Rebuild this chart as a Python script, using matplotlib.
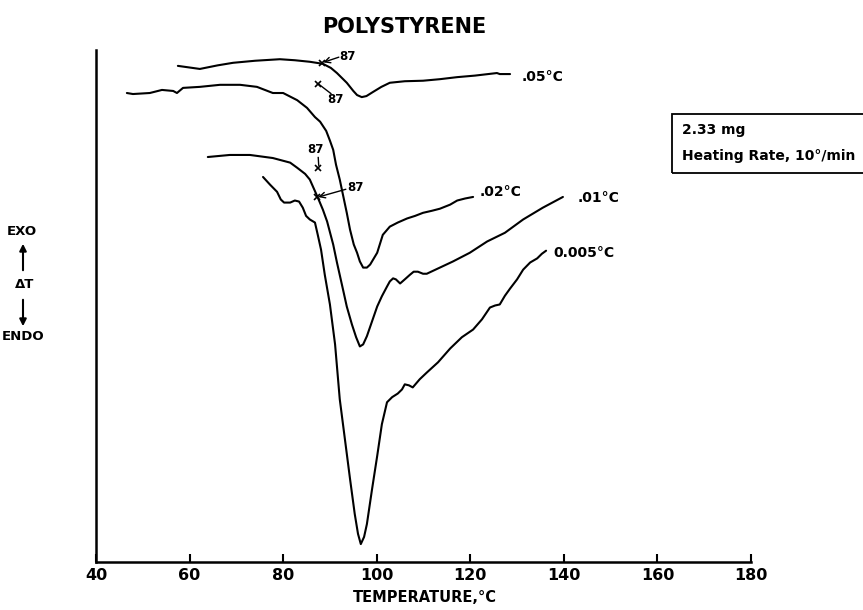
import matplotlib
matplotlib.use("Agg")
import matplotlib.pyplot as plt
from matplotlib.patches import Rectangle, FancyArrowPatch

plt.rcParams['font.family'] = ['DejaVu Sans']

# ---- data (temperature in degC, signal in arbitrary units) ----
t_05 = [57.5, 62.2, 66.0, 69.3, 74.0, 79.3, 82.5, 85.7, 88.5, 90.2, 91.5, 93.6, 95.0, 95.8, 96.8,
        97.8, 99.2, 101.0, 102.8, 106.0, 109.9, 113.5, 117.2, 121.0, 125.7, 126.3, 128.5]
s_05 = [96.9, 96.3, 97.0, 97.5, 97.9, 98.2, 98.0, 97.7, 97.3, 96.5, 95.5, 93.6, 92.0, 91.2, 90.8,
        91.0, 91.8, 92.8, 93.6, 93.9, 94.0, 94.3, 94.7, 95.0, 95.5, 95.3, 95.3]

t_02 = [46.6, 47.9, 51.5, 54.1, 56.5, 57.3, 58.6, 62.2, 66.5, 70.8, 74.4, 77.8, 80.0,
        83.0, 85.1, 86.8, 87.9, 89.2, 90.0, 90.7, 91.3, 92.1, 93.6, 94.3, 95.1, 95.8,
        96.4, 97.1, 97.9, 98.6, 100.1, 101.3, 102.8, 104.5, 106.5, 108.2, 109.9, 111.8,
        113.5, 115.7, 117.2, 118.9, 120.6]
s_02 = [91.6, 91.4, 91.6, 92.2, 92.0, 91.6, 92.6, 92.8, 93.2, 93.2, 92.8, 91.6, 91.6,
        90.2, 88.7, 86.9, 86.0, 84.2, 82.3, 80.5, 77.6, 74.7, 68.2, 64.9, 62.0, 60.4,
        58.7, 57.5, 57.5, 58.1, 60.4, 63.9, 65.5, 66.3, 67.1, 67.6, 68.2, 68.6,
        69.0, 69.8, 70.6, 71.0, 71.3]

t_01 = [63.9, 68.6, 72.9, 77.8, 81.5, 83.0, 84.7, 85.7, 87.4, 88.5, 89.4, 90.7, 91.5,
        92.8, 93.6, 94.7, 95.6, 96.4, 97.1, 97.9, 99.0, 100.1, 101.1, 102.2, 102.8,
        103.5, 104.1, 105.0, 106.0, 107.1, 107.9, 108.8, 109.9, 110.7, 113.5, 116.3,
        119.9, 123.6, 127.4, 131.3, 135.5, 139.8]
s_01 = [79.1, 79.5, 79.5, 78.9, 78.0, 77.0, 75.8, 74.7, 71.2, 68.8, 66.5, 62.0, 58.5,
        53.2, 49.9, 46.4, 43.9, 42.1, 42.5, 44.1, 47.0, 49.9, 51.9, 53.8, 54.8,
        55.4, 55.2, 54.4, 55.2, 56.1, 56.7, 56.7, 56.3, 56.3, 57.5, 58.7,
        60.4, 62.6, 64.3, 66.9, 69.2, 71.3]

t_005 = [75.7, 77.2, 78.7, 79.5, 80.2, 81.5, 82.5, 83.4, 84.2, 84.9, 85.7, 86.8, 87.4,
         88.1, 88.9, 90.0, 91.1, 92.1, 93.2, 94.3, 95.3, 96.0, 96.6, 97.3, 97.9, 99.0,
         100.1, 101.1, 102.2, 103.3, 104.5, 105.4, 106.0, 106.9, 107.7, 109.2, 110.7,
         113.1, 115.7, 118.2, 120.6, 122.5, 124.2, 125.3, 126.3, 127.4, 128.5, 130.0,
         131.3, 132.8, 134.3, 135.3, 136.2]
s_005 = [75.2, 73.7, 72.3, 70.8, 70.2, 70.2, 70.6, 70.4, 69.2, 67.6, 66.9, 66.3, 63.9,
         61.0, 56.1, 50.3, 42.5, 31.8, 24.0, 16.2, 9.4, 5.5, 3.5, 4.9, 7.4, 14.2,
         20.7, 26.9, 31.2, 32.2, 32.9, 33.7, 34.7, 34.5, 34.1, 35.7, 37.0,
         39.0, 41.7, 43.9, 45.4, 47.4, 49.7, 50.1, 50.3, 52.0, 53.4, 55.2,
         57.1, 58.5, 59.3, 60.2, 60.8]

curve_labels = [".05°C", ".02°C", ".01°C", "0.005°C"]
label_pos = [(131.0, 94.8), (122.1, 72.3), (143.0, 71.0), (137.7, 60.4)]

# onset (Tg = 87) marks: cross position and label position
onset_label = "87"
onset_cross = [(88.3, 97.5), (87.5, 93.4), (87.4, 77.0), (87.2, 71.2)]
onset_text = [(93.8, 98.8), (91.2, 90.3), (87.0, 80.5), (95.4, 73.1)]

x_ticks = [40, 60, 80, 100, 120, 140, 160, 180]

W = 'bold'

# ---- figure ----
fig = plt.figure(figsize=(8.63, 6.10), dpi=100)
ax = fig.add_axes([96/863, 1 - 562/610, (751-96)/863, (562-50)/610])
ax.set_xlim(40, 180)
ax.set_ylim(0, 100)

for t, s in [(t_05, s_05), (t_02, s_02), (t_01, s_01), (t_005, s_005)]:
    ax.plot(t, s, color='black', lw=1.5, solid_joinstyle='round', solid_capstyle='round')

for lab, (x, y) in zip(curve_labels, label_pos):
    ax.text(x, y, lab, fontsize=10, va='center', ha='left', fontweight=W)

# onset marks
for (cx, cy) in onset_cross:
    ax.plot([cx], [cy], marker='x', ms=5, mew=1.2, color='black')
for (tx, ty) in onset_text:
    ax.text(tx, ty, onset_label, fontsize=8.5, ha='center', va='center', fontweight=W)
# connecting lines / arrows
ax.annotate('', xy=onset_cross[0], xytext=(onset_text[0][0] - 1.9, onset_text[0][1] - 0.2),
            arrowprops=dict(arrowstyle='->', lw=1.0, color='black', shrinkA=0, shrinkB=1))
ax.plot([onset_cross[1][0], onset_text[1][0] - 1.0], [onset_cross[1][1], onset_text[1][1] + 1.2],
        color='black', lw=1.0)
ax.plot([onset_cross[2][0] + 0.2, onset_text[2][0] + 0.5], [onset_cross[2][1] + 0.5, onset_text[2][1] - 1.5],
        color='black', lw=1.0)
ax.annotate('', xy=onset_cross[3], xytext=(onset_text[3][0] - 2.0, onset_text[3][1] - 0.3),
            arrowprops=dict(arrowstyle='->', lw=1.0, color='black', shrinkA=0, shrinkB=1))

# axes styling
for side in ['top', 'right']:
    ax.spines[side].set_visible(False)
for side in ['left', 'bottom']:
    ax.spines[side].set_linewidth(1.8)
ax.set_yticks([])
ax.set_xticks(x_ticks)
ax.set_xticklabels([str(v) for v in x_ticks], fontsize=11.5, fontweight=W)
ax.tick_params(axis='x', direction='in', length=6, width=1.5, pad=4)

# texts
fig.text(404/863, 1 - 27/610, "POLYSTYRENE", fontsize=15, ha='center', va='center', fontweight=W)
fig.text(425/863, 1 - 597/610, "TEMPERATURE,°C", fontsize=10.5, ha='center', va='center', fontweight=W)

fig.text(22/863, 1 - 232/610, "EXO", fontsize=9.5, ha='center', va='center', fontweight=W)
fig.text(25/863, 1 - 285/610, "ΔT", fontsize=9.5, ha='center', va='center', fontweight=W)
fig.text(23/863, 1 - 337/610, "ENDO", fontsize=9.5, ha='center', va='center', fontweight=W)
fig.patches.append(FancyArrowPatch((23/863, 1 - 273/610), (23/863, 1 - 241/610),
                                   transform=fig.transFigure, arrowstyle='-|>',
                                   mutation_scale=10, lw=1.5, color='black'))
fig.patches.append(FancyArrowPatch((23/863, 1 - 297/610), (23/863, 1 - 329/610),
                                   transform=fig.transFigure, arrowstyle='-|>',
                                   mutation_scale=10, lw=1.5, color='black'))

# info box
fig.patches.append(Rectangle((672/863, 1 - 173/610), 0.3, 59/610, transform=fig.transFigure,
                             fill=False, lw=1.3, edgecolor='black'))
fig.text(682/863, 1 - 130/610, "2.33 mg", fontsize=10, ha='left', va='center', fontweight=W)
fig.text(682/863, 1 - 156/610, "Heating Rate, 10°/min", fontsize=10, ha='left', va='center', fontweight=W)

fig.savefig("out.png", dpi=100)
